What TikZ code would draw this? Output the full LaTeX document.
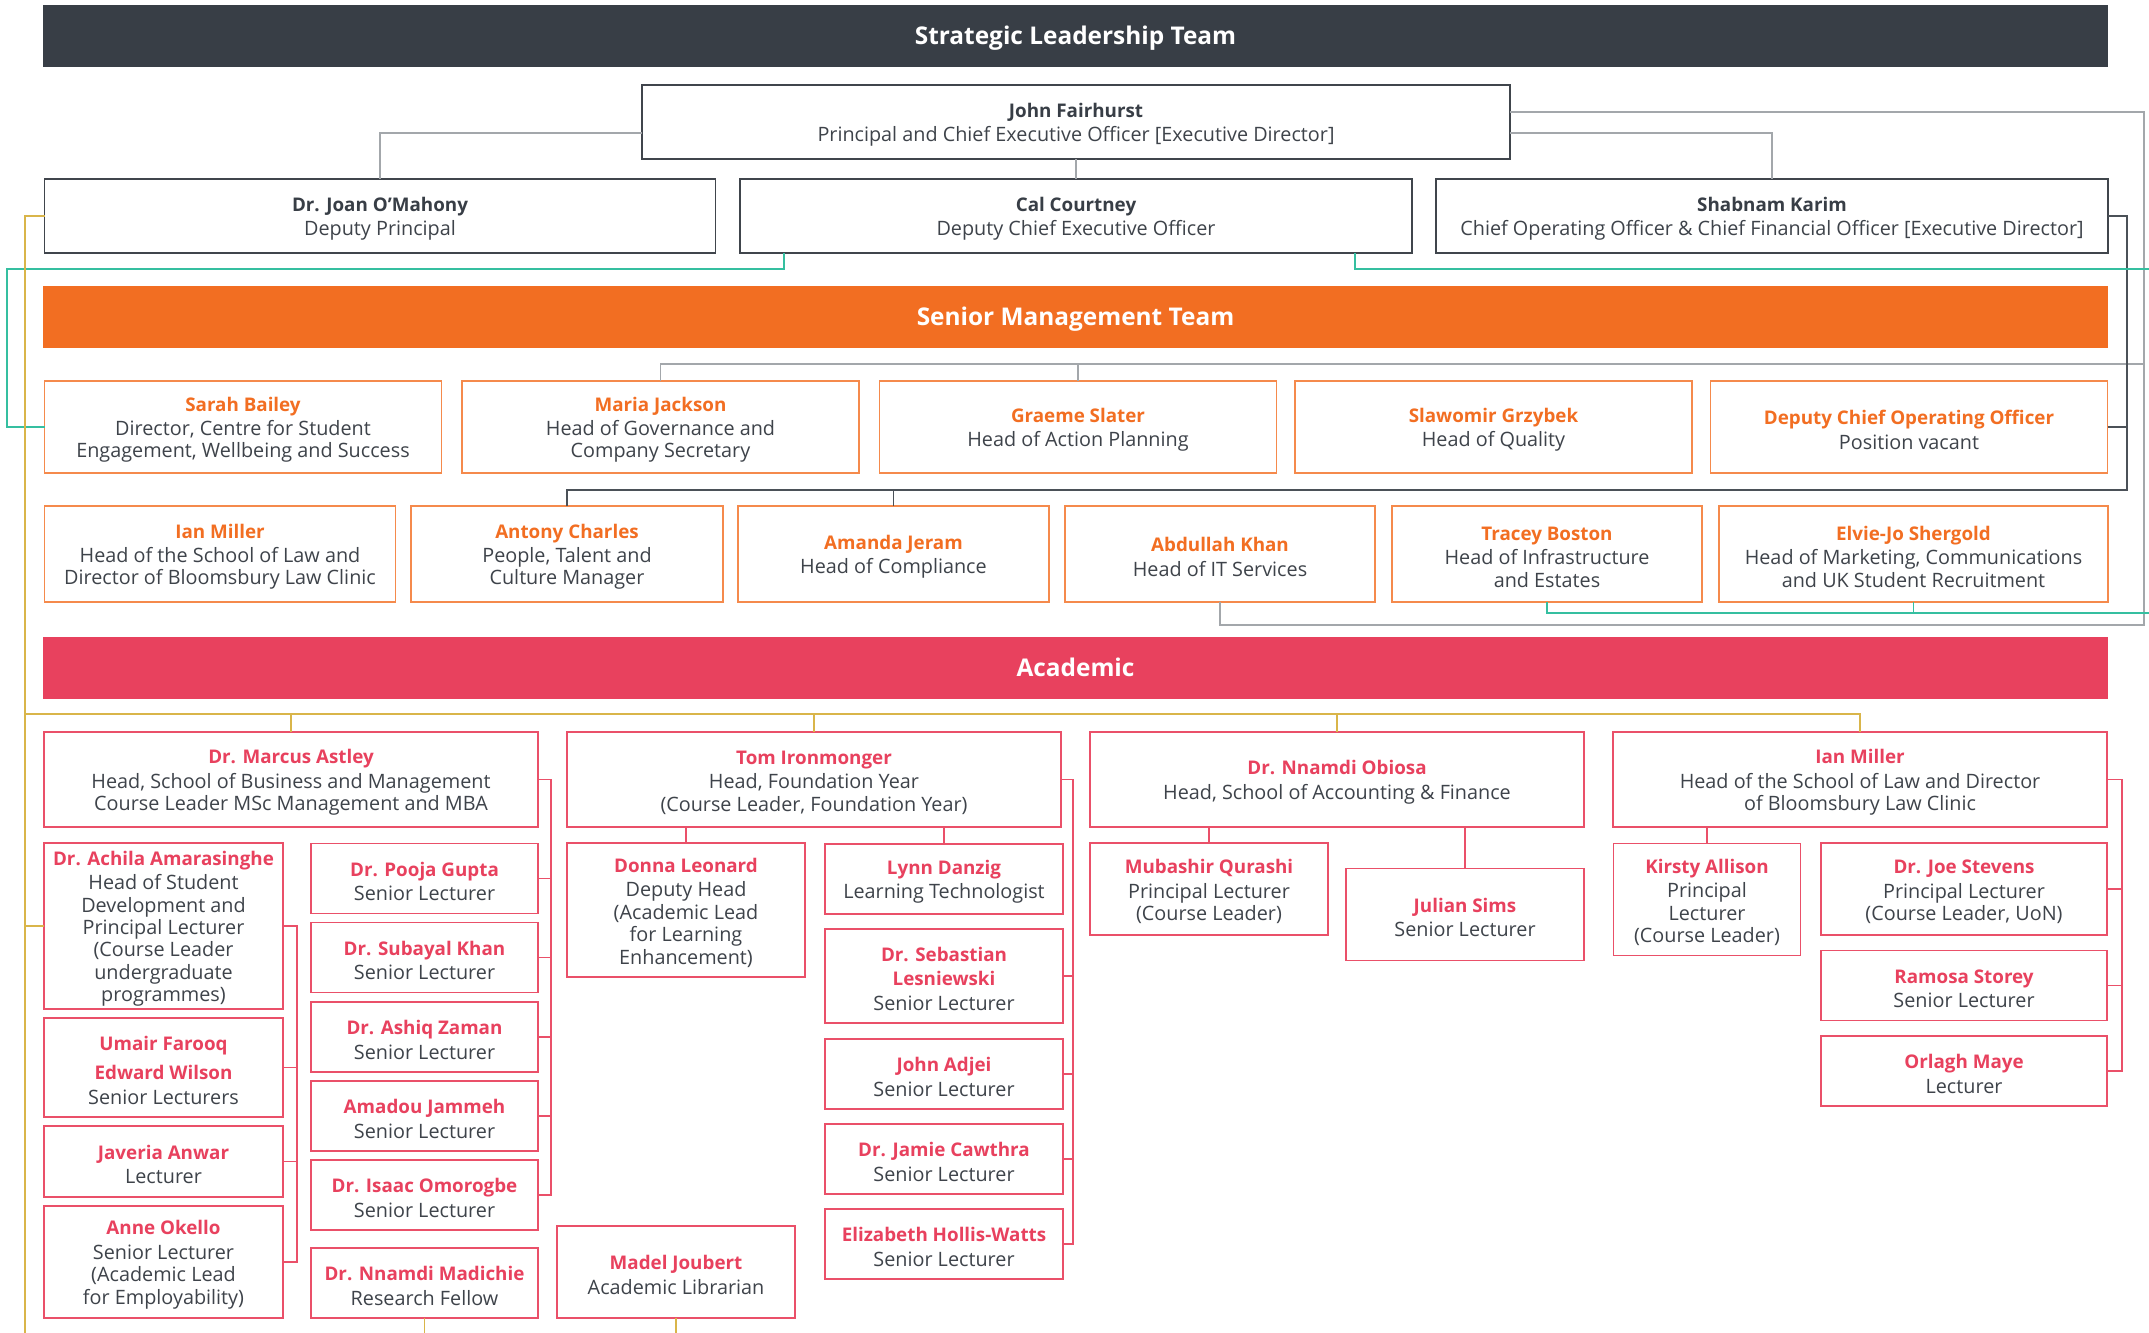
\documentclass[tikz,border=0pt]{standalone}
\usepackage{fontspec}
\setmainfont{Open Sans}

\definecolor{cSlt}{HTML}{383E46}
\definecolor{cSmt}{HTML}{F26E22}
\definecolor{cAcad}{HTML}{E8415E}
\definecolor{txt}{HTML}{3E434A}
\definecolor{slline}{HTML}{40454C}
\definecolor{smline}{HTML}{F58A4C}
\definecolor{acline}{HTML}{EA5069}
\definecolor{cGray}{HTML}{A3A7AB}
\definecolor{cTeal}{HTML}{35BFA0}
\definecolor{cGold}{HTML}{D9B54A}
\definecolor{cDark}{HTML}{4B5158}

% name lines
\newcommand{\nmfont}{\fontsize{9.4}{11}\selectfont\bfseries}
\newcommand{\sln}[2][1pt]{\rule{0pt}{9.9pt}\textcolor{cSlt}{\nmfont #2}\\[#1]}
\newcommand{\smn}[2][1pt]{\rule{0pt}{9.9pt}\textcolor{cSmt}{\nmfont #2}\\[#1]}
\newcommand{\acn}[2][1pt]{\rule{0pt}{9.9pt}\textcolor{cAcad}{\nmfont #2}\\[#1]}
\newcommand{\acm}[2][1pt]{\textcolor{cAcad}{\nmfont #2}\\[#1]}

\begin{document}
\begin{tikzpicture}[x=0.5pt,y=-0.5pt,
    every node/.style={font=\fontsize{9.9}{11.2}\selectfont, text=txt},
    box/.style 2 args={rectangle, draw, line width=0.8pt, fill=white,
        inner sep=0pt, outer sep=0pt, align=center,
        minimum width=#1*0.5pt, minimum height=#2*0.5pt},
    slbox/.style 2 args={box={#1}{#2}, draw=slline},
    smbox/.style 2 args={box={#1}{#2}, draw=smline},
    acbox/.style 2 args={box={#1}{#2}, draw=acline},
    band/.style={rectangle, fill=#1, inner sep=0pt,
        minimum width=2065*0.5pt, minimum height=62*0.5pt,
        text height=8.8pt, text depth=0pt,
        text=white, font=\fontsize{12.2}{14}\selectfont\bfseries},
    gl/.style={draw=cGray, line width=0.7pt},
    dl/.style={draw=cDark, line width=0.7pt},
    tl/.style={draw=cTeal, line width=0.7pt},
    gdl/.style={draw=cGold, line width=0.7pt},
    al/.style={draw=acline, line width=0.7pt}]

    \useasboundingbox (0,0) rectangle (2149,1333);

    % strategic leadership
    \node[band=cSlt] (slt) at (1075.5,36) {Strategic Leadership Team};
    \node[slbox={868}{74}] (john) at (1076,122)
        {\sln{John Fairhurst}Principal and Chief Executive Officer [Executive Director]};
    \node[slbox={671}{74}] (joan) at (380,216)
        {\sln{Dr. Joan O’Mahony}Deputy Principal};
    \node[slbox={672}{74}] (cal) at (1076,216)
        {\sln{Cal Courtney}Deputy Chief Executive Officer};
    \node[slbox={672}{74}] (shabnam) at (1772,216)
        {\sln{Shabnam Karim}Chief Operating Officer \& Chief Financial Officer [Executive Director]};

    % senior management
    \node[band=cSmt] (smt) at (1075.5,317) {Senior Management Team};
    \node[smbox={397}{92}] (sarah) at (243,427)
        {\smn{Sarah Bailey}Director, Centre for Student\\Engagement, Wellbeing and Success};
    \node[smbox={397}{92}] (maria) at (660.5,427)
        {\smn{Maria Jackson}Head of Governance and\\Company Secretary};
    \node[smbox={397}{92}] (graeme) at (1078,427)
        {\smn{Graeme Slater}Head of Action Planning};
    \node[smbox={397}{92}] (slawomir) at (1493.5,427)
        {\smn{Slawomir Grzybek}Head of Quality};
    \node[smbox={397}{92}] (dcoo) at (1909,427)
        {\smn{Deputy Chief Operating Officer}Position vacant};

    \node[smbox={351}{96}] (ianm) at (220,554)
        {\smn{Ian Miller}Head of the School of Law and\\Director of Bloomsbury Law Clinic};
    \node[smbox={312}{96}] (antony) at (567,554)
        {\smn{Antony Charles}People, Talent and\\Culture Manager};
    \node[smbox={311}{96}] (amanda) at (893.5,554)
        {\smn{Amanda Jeram}Head of Compliance};
    \node[smbox={310}{96}] (abdullah) at (1220,554)
        {\smn{Abdullah Khan}Head of IT Services};
    \node[smbox={310}{96}] (tracey) at (1547,554)
        {\smn{Tracey Boston}Head of Infrastructure\\and Estates};
    \node[smbox={389}{96}] (elvie) at (1913.5,554)
        {\smn{Elvie-Jo Shergold}Head of Marketing, Communications\\and UK Student Recruitment};

    % academic
    \node[band=cAcad] (acad) at (1075.5,668) {Academic};
    \node[acbox={494}{95}] (marcus) at (291,779.5)
        {\acn{Dr. Marcus Astley}Head, School of Business and Management\\Course Leader MSc Management and MBA};
    \node[acbox={494}{95}] (tom) at (814,779.5)
        {\acn{Tom Ironmonger}Head, Foundation Year\\(Course Leader, Foundation Year)};
    \node[acbox={494}{95}] (obiosa) at (1337,779.5)
        {\acn{Dr. Nnamdi Obiosa}Head, School of Accounting \& Finance};
    \node[acbox={494}{95}] (ianl) at (1860,779.5)
        {\acn{Ian Miller}Head of the School of Law and Director\\of Bloomsbury Law Clinic};

    \node[acbox={239}{166}] (achila) at (163.5,926)
        {\acn{Dr. Achila Amarasinghe}Head of Student\\Development and\\Principal Lecturer\\(Course Leader\\undergraduate\\programmes)};
    \node[acbox={239}{99}] (umair) at (163.5,1067.5)
        {\acn[3.5pt]{Umair Farooq}\acm{Edward Wilson}Senior Lecturers};
    \node[acbox={239}{71}] (javeria) at (163.5,1161.5)
        {\acn{Javeria Anwar}Lecturer};
    \node[acbox={239}{112}] (anne) at (163.5,1262)
        {\acn{Anne Okello}Senior Lecturer\\(Academic Lead\\for Employability)};

    \node[acbox={227}{70}] (pooja) at (424.5,878.5) {\acn{Dr. Pooja Gupta}Senior Lecturer};
    \node[acbox={227}{70}] (subayal) at (424.5,957.5) {\acn{Dr. Subayal Khan}Senior Lecturer};
    \node[acbox={227}{70}] (ashiq) at (424.5,1037) {\acn{Dr. Ashiq Zaman}Senior Lecturer};
    \node[acbox={227}{70}] (amadou) at (424.5,1116) {\acn{Amadou Jammeh}Senior Lecturer};
    \node[acbox={227}{70}] (isaac) at (424.5,1195) {\acn{Dr. Isaac Omorogbe}Senior Lecturer};
    \node[acbox={227}{70}] (madichie) at (424.5,1283) {\acn{Dr. Nnamdi Madichie}Research Fellow};

    \node[acbox={238}{134}] (donna) at (686,910)
        {\acn{Donna Leonard}Deputy Head\\(Academic Lead\\for Learning\\Enhancement)};
    \node[acbox={238}{92}] (madel) at (676,1272)
        {\acn{Madel Joubert}Academic Librarian};
    \node[acbox={238}{70}] (lynn) at (944,879) {\acn{Lynn Danzig}Learning Technologist};
    \node[acbox={238}{94}] (sebastian) at (944,976)
        {\acn{Dr. Sebastian}\acm{Lesniewski}Senior Lecturer};
    \node[acbox={238}{70}] (adjei) at (944,1074) {\acn{John Adjei}Senior Lecturer};
    \node[acbox={238}{70}] (cawthra) at (944,1159) {\acn{Dr. Jamie Cawthra}Senior Lecturer};
    \node[acbox={238}{70}] (hollis) at (944,1244) {\acn{Elizabeth Hollis-Watts}Senior Lecturer};

    \node[acbox={238}{92}] (qurashi) at (1209,889)
        {\acn{Mubashir Qurashi}Principal Lecturer\\(Course Leader)};
    \node[acbox={238}{92}] (sims) at (1465,914.5) {\acn{Julian Sims}Senior Lecturer};

    \node[acbox={187}{112}] (kirsty) at (1707,899.5)
        {\acn{Kirsty Allison}Principal\\Lecturer\\(Course Leader)};
    \node[acbox={286}{92}] (stevens) at (1964,889)
        {\acn{Dr. Joe Stevens}Principal Lecturer\\(Course Leader, UoN)};
    \node[acbox={286}{70}] (storey) at (1964,985.5) {\acn{Ramosa Storey}Senior Lecturer};
    \node[acbox={286}{70}] (maye) at (1964,1071) {\acn{Orlagh Maye}Lecturer};

    % grey lines
    \coordinate (gr) at (2144,625);
    \coordinate (smbus) at (2144,364);
    \draw[gl] ([yshift=-5.5pt]john.west) -| (joan.north);
    \draw[gl] ([yshift=-5.5pt]john.east) -| (shabnam.north);
    \draw[gl] (john.south) -- (cal.north);
    \draw[gl] ([yshift=5pt]john.east) -| (gr) -| (abdullah.south);
    \draw[gl] (maria.north) |- (smbus);
    \draw[gl] (graeme.north) -- (graeme.north |- smbus);

    % dark lines
    \coordinate (dk) at (2127,490);
    \draw[dl] (shabnam.east) -| (dk) -| (antony.north);
    \draw[dl] (dcoo.east) -- (dcoo.east -| dk);
    \draw[dl] (amanda.north) -- (amanda.north |- dk);

    % teal lines
    \coordinate (tealL) at (7,269);
    \coordinate (tealR) at (2160,613);
    \draw[tl] ([xshift=-146pt]cal.south) |- (tealL) |- (sarah.west);
    \draw[tl] ([xshift=139.5pt]cal.south) |- (tealR |- tealL) -- (tealR) -| (tracey.south);
    \draw[tl] (elvie.south) -- (elvie.south |- tealR);

    % gold lines
    \coordinate (gd) at (25,1345);
    \coordinate (gbus) at (1860,714);
    \draw[gdl] (joan.west) -| (gd);
    \draw[gdl] (gd |- gbus) -- (gbus) -- (ianl.north);
    \foreach \n in {marcus,tom,obiosa}
        \draw[gdl] (\n.north) -- (\n.north |- gbus);
    \draw[gdl] (achila.west) -- (achila.west -| gd);
    \draw[gdl] (madichie.south) -- (madichie.south |- gd);
    \draw[gdl] (madel.south) -- (madel.south |- gd);

    % academic lines
    \coordinate (mb) at (551,1195);
    \draw[al] (marcus.east) -| (mb) -- (isaac.east);
    \foreach \n in {pooja,subayal,ashiq,amadou}
        \draw[al] (\n.east) -- (\n.east -| mb);
    \coordinate (ab) at (297,1262);
    \draw[al] (achila.east) -| (ab) -- (anne.east);
    \foreach \n in {umair,javeria}
        \draw[al] (\n.east) -- (\n.east -| ab);
    \coordinate (tb) at (1073,1244);
    \draw[al] (tom.east) -| (tb) -- (hollis.east);
    \foreach \n in {sebastian,adjei,cawthra}
        \draw[al] (\n.east) -- (\n.east -| tb);
    \draw[al] (donna.north) -- (donna.north |- tom.south);
    \draw[al] (lynn.north) -- (lynn.north |- tom.south);
    \draw[al] (qurashi.north) -- (qurashi.north |- obiosa.south);
    \draw[al] (sims.north) -- (sims.north |- obiosa.south);
    \draw[al] (kirsty.north) -- (kirsty.north |- ianl.south);
    \coordinate (ib) at (2122,1071);
    \draw[al] (ianl.east) -| (ib) -- (maye.east);
    \foreach \n in {stevens,storey}
        \draw[al] (\n.east) -- (\n.east -| ib);

\end{tikzpicture}
\end{document}
